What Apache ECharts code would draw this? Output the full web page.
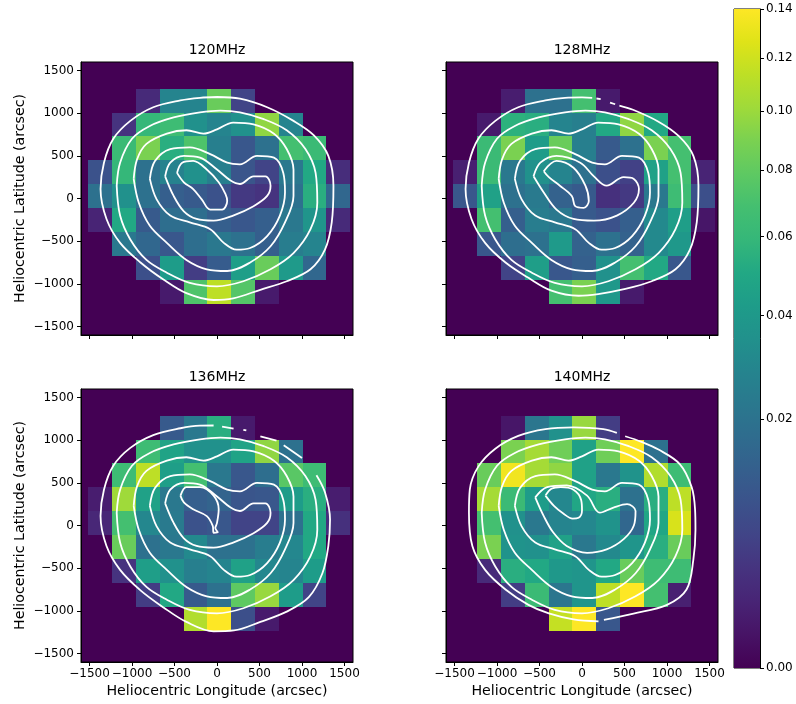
<!DOCTYPE html>
<html><head><meta charset="utf-8">
<script src="https://cdn.jsdelivr.net/npm/echarts@6/dist/echarts.min.js"></script>
<style>html,body{margin:0;padding:0;background:#fff}#c{width:796px;height:704px}</style>
</head><body><div id="c"></div>
<script>
// ---------------- data ----------------
const panelTitles = ['120MHz', '128MHz', '136MHz', '140MHz'];
const cellX = [-1372, -1092, -812, -532, -252, 28, 308, 588, 868, 1148, 1428];
const cellY = [1148, 868, 588, 308, 28, -252, -532, -812, -1092];
const cellSize = 280;
const axisTicks = [-1500, -1000, -500, 0, 500, 1000, 1500];
const cbTicks = [0, 0.02, 0.04, 0.06, 0.08, 0.10, 0.12, 0.14];
const vmax = 0.14;

const flux120 = [
  [0,0,0.002,0.0284,0.0284,0.083,0.0056,0,0,0,0],
  [0,0.0032,0.0592,0.0647,0.035,0.0284,0.035,0.0964,0.0284,0,0],
  [0,0.0628,0.0896,0.0538,0.0726,0.0259,0.0102,0.0192,0.0686,0.0628,0],
  [0.0088,0.0592,0.0192,0.0271,0.035,0.0259,0.0095,0.0056,0.0224,0.0504,0.0024],
  [0.0192,0.035,0.0192,0.0126,0.011,0.0088,0.004,0.0032,0.0192,0.0538,0.0152],
  [0.0014,0.0504,0.011,0.0181,0.0181,0.0126,0.0102,0.0126,0.0224,0.0379,0.002],
  [0,0.0224,0.0152,0.0102,0.0181,0.0224,0.0192,0.0126,0.0247,0.0284,0],
  [0,0,0.0081,0.0424,0.0045,0.0118,0.0439,0.083,0.0408,0.0152,0],
  [0,0,0,0.0007,0.0726,0.1134,0.0746,0.0007,0,0,0]
];
const flux128 = [
  [0,0,0.0009,0.0192,0.0192,0.0686,0.0007,0,0,0,0],
  [0,0.0007,0.0556,0.0538,0.0284,0.0259,0.0504,0.0964,0.0504,0,0],
  [0,0.0628,0.0896,0.0424,0.083,0.0259,0.011,0.0192,0.0896,0.0686,0],
  [0.0011,0.0628,0.0224,0.035,0.0284,0.0192,0.0081,0.0051,0.0455,0.0686,0.0014],
  [0.0102,0.0455,0.0192,0.0235,0.0135,0.011,0.0027,0.004,0.0224,0.0647,0.0081],
  [0,0.0686,0.0126,0.0247,0.0224,0.011,0.0088,0.0126,0.0309,0.0439,0.0005],
  [0,0.0102,0.0181,0.0192,0.0408,0.0135,0.0192,0.0135,0.0309,0.0393,0],
  [0,0,0.0056,0.0439,0.0102,0.0126,0.035,0.0686,0.0504,0.0102,0],
  [0,0,0,0,0.0686,0.0896,0.0393,0.0007,0,0,0]
];
const flux136 = [
  [0,0,0,0.011,0.0224,0.0538,0.0007,0,0,0,0],
  [0,0,0.0647,0.0471,0.035,0.035,0.0471,0.0964,0.0192,0,0],
  [0,0.0647,0.1134,0.0439,0.0686,0.0224,0.0102,0.0181,0.0767,0.0647,0],
  [0.0009,0.1012,0.0455,0.0224,0.0126,0.0143,0.0095,0.0102,0.0424,0.0538,0.0009],
  [0.0017,0.0686,0.0296,0.0235,0.0088,0.0102,0.0056,0.0056,0.0192,0.0504,0.0027],
  [0,0.083,0.0192,0.0224,0.0309,0.0192,0.0192,0.0247,0.0296,0.0504,0],
  [0,0.0032,0.0439,0.035,0.0259,0.0284,0.0455,0.0296,0.0284,0.0424,0],
  [0,0,0.0045,0.0504,0.011,0.0192,0.0788,0.0988,0.0424,0.0056,0],
  [0,0,0,0,0.1084,0.14,0.0081,0.0007,0,0,0]
];
const flux140 = [
  [0,0,0.0005,0.0213,0.035,0.0988,0.0045,0,0,0,0],
  [0,0,0.0896,0.1035,0.0852,0.0455,0.0852,0.14,0.0192,0,0],
  [0,0.083,0.1345,0.1035,0.0964,0.0455,0.0224,0.0364,0.1084,0.0647,0],
  [0,0.1035,0.0628,0.0424,0.0296,0.0487,0.0538,0.0192,0.0538,0.1134,0],
  [0,0.0686,0.035,0.0224,0.0284,0.0296,0.0364,0.0152,0.0487,0.1237,0],
  [0,0.0896,0.0364,0.035,0.0455,0.0224,0.0309,0.0379,0.0538,0.083,0],
  [0,0.002,0.0538,0.0504,0.0393,0.0379,0.0504,0.083,0.0647,0.0647,0],
  [0,0,0.0045,0.0628,0.0213,0.0379,0.1134,0.14,0.0686,0.0011,0],
  [0,0,0,0,0.1159,0.14,0.0102,0,0,0,0]
];
const fluxes = [flux120, flux128, flux136, flux140];

// contour levels (outer -> inner), points in arcsec
const c120_1 = [[0,1190],[270,1170],[590,1070],[900,910],[1140,740],[1310,500],[1370,150],[1350,-280],[1270,-600],[1100,-830],[820,-970],[510,-1070],[190,-1170],[-40,-1190],[-360,-1110],[-630,-950],[-900,-750],[-1140,-520],[-1300,-240],[-1370,110],[-1330,420],[-1220,700],[-1020,910],[-750,1070],[-430,1150],[-200,1180],[0,1190]];
const c120_2 = [[-1180,150],[-1140,420],[-1000,700],[-790,850],[-510,950],[-200,1010],[40,1030],[270,1010],[550,930],[820,800],[1040,580],[1160,300],[1180,-50],[1100,-360],[900,-640],[630,-830],[310,-970],[0,-1030],[-320,-990],[-590,-870],[-830,-720],[-1020,-480],[-1140,-200],[-1180,150]];
const c120_3 = [[-980,230],[-940,460],[-830,640],[-590,760],[-360,800],[-160,760],[0,810],[190,890],[430,870],[670,760],[820,580],[900,340],[900,30],[800,-280],[630,-560],[390,-750],[120,-850],[-120,-830],[-360,-720],[-590,-520],[-790,-320],[-920,-50],[-980,230]];
const c120_4 = [[-790,230],[-730,440],[-550,580],[-320,600],[-80,520],[120,420],[270,400],[470,500],[670,480],[780,300],[800,70],[740,-200],[590,-440],[390,-580],[230,-600],[80,-520],[-80,-360],[-320,-280],[-550,-200],[-710,-10],[-790,230]];
const c120_5 = [[-610,260],[-550,420],[-390,500],[-200,480],[0,340],[160,210],[270,170],[430,260],[570,260],[630,150],[590,30],[430,-90],[190,-200],[-40,-260],[-240,-240],[-390,-150],[-510,30],[-610,260]];
const c120_6 = [[-470,300],[-410,420],[-280,440],[-120,340],[20,190],[100,50],[120,-30],[60,-130],[-80,-130],[-180,-10],[-280,110],[-390,190],[-470,300]];

const c128_1a = [[440,1090],[600,1040],[900,900],[1140,730],[1310,500],[1370,150],[1350,-280],[1270,-600],[1100,-830],[820,-970],[510,-1060],[190,-1120],[-40,-1140],[-360,-1080],[-630,-930],[-900,-750],[-1140,-520],[-1300,-240],[-1370,110],[-1330,420],[-1220,700],[-1020,910],[-750,1070],[-430,1150],[-200,1180],[0,1185],[120,1180]];
const c128_1b = [[170,1172],[220,1165]];
const c128_1c = [[330,1125],[390,1105]];
const c128_5 = [[-570,260],[-490,420],[-300,500],[-20,420],[140,260],[290,150],[490,250],[610,230],[670,110],[610,-50],[410,-200],[140,-260],[-100,-240],[-300,-130],[-450,70],[-570,260]];
const c128_6 = [[-450,320],[-300,440],[-100,360],[40,150],[80,-30],[20,-110],[-80,-90],[-120,30],[-260,150],[-390,250],[-450,320]];

const c136_1a = [[1170,590],[1270,390],[1330,70],[1310,-240],[1240,-560],[1080,-840],[820,-1010],[510,-1130],[200,-1230],[-40,-1240],[-360,-1130],[-630,-960],[-900,-760],[-1140,-520],[-1300,-240],[-1370,110],[-1330,420],[-1220,700],[-1020,910],[-750,1060],[-430,1140],[-200,1170],[-40,1172]];
const c136_1b = [[60,1160],[195,1135]];
const c136_1c = [[310,1122],[345,1115]];
const c136_1d = [[510,1045],[700,995]];
const c136_1e = [[785,940],[1000,790]];
const c136_6 = [[-430,350],[-360,450],[-200,450],[-40,350],[20,190],[0,30],[-20,-30],[10,-80],[-40,-85],[-50,-5],[-120,110],[-280,190],[-390,270],[-430,350]];

const c140_1a = [[410,1085],[250,1130],[-100,1150],[-430,1130],[-750,1050],[-1020,900],[-1220,690],[-1320,420],[-1330,150],[-1290,-240],[-1140,-520],[-900,-750],[-630,-930],[-390,-1030],[-100,-1100],[194,-1123]];
const c140_1b = [[258,-1107],[606,-1033],[1000,-930],[1230,-750],[1310,-400],[1335,-50],[1330,190],[1290,450],[1150,720],[900,890],[700,980],[508,1046]];
const c140_5 = [[-550,330],[-410,450],[-180,470],[60,350],[210,150],[370,210],[530,250],[630,170],[610,0],[490,-160],[290,-280],[60,-320],[-180,-240],[-340,-80],[-450,110],[-550,330]];
const c140_6 = [[-430,350],[-360,430],[-250,450],[-100,420],[-10,300],[0,180],[-40,90],[-110,80],[-220,140],[-330,230],[-430,350]];

const contours = [
  [c120_1, c120_2, c120_3, c120_4, c120_5, c120_6],
  [c128_1a, c128_1b, c128_1c, c120_2, c120_3, c120_4, c128_5, c128_6],
  [c136_1a, c136_1b, c136_1c, c136_1d, c136_1e, c120_2, c120_3, c120_4, c120_5, c136_6],
  [c140_1a, c140_1b, c120_2, c120_3, c120_4, c140_5, c140_6]
];

// ---------------- chart ----------------
const viridis = ['#440154','#471365','#482475','#46337f','#414487','#3b528b','#355f8d','#2f6c8e','#2a788e','#25848e','#21918c','#1e9c89','#22a884','#35b779','#44bf70','#5ec962','#7ad151','#9fda3a','#bddf26','#dfe318','#fde725'];
const FONT = 'DejaVu Sans';
const fmtTick = v => (v < 0 ? '\u2212' + Math.abs(v) : String(v));

const gridPos = [
  {left: 81, top: 62}, {left: 446, top: 62}, {left: 81, top: 389}, {left: 446, top: 389}
];
const grids = gridPos.map(p => ({left: p.left, top: p.top, width: 272, height: 273, show: true,
  backgroundColor: '#440154', borderColor: '#000', borderWidth: 1, containLabel: false}));
grids.push({left: 734, top: 9, width: 26, height: 659, show: true, backgroundColor: 'transparent', borderColor: '#000', borderWidth: 1});

const xAxes = [], yAxes = [];
for (let i = 0; i < 4; i++) {
  const bottomRow = i >= 2, leftCol = i % 2 === 0;
  xAxes.push({type: 'value', gridIndex: i, min: -1600, max: 1600,
    splitLine: {show: false},
    axisLine: {show: true, onZero: false, lineStyle: {color: '#000', width: 1}},
    axisTick: {show: true, customValues: axisTicks, length: 4, lineStyle: {color: '#000', width: 1}},
    axisLabel: {show: bottomRow, customValues: axisTicks, formatter: fmtTick, margin: 6, color: '#000', fontSize: 12, fontFamily: FONT},
    name: bottomRow ? 'Heliocentric Longitude (arcsec)' : '', nameLocation: 'middle', nameGap: 22,
    nameTextStyle: {color: '#000', fontSize: 14.2, fontFamily: FONT}
  });
  yAxes.push({type: 'value', gridIndex: i, min: -1600, max: 1600,
    splitLine: {show: false},
    axisLine: {show: true, onZero: false, lineStyle: {color: '#000', width: 1}},
    axisTick: {show: true, customValues: axisTicks, length: 4, lineStyle: {color: '#000', width: 1}},
    axisLabel: {show: leftCol, customValues: axisTicks, formatter: fmtTick, margin: 7, color: '#000', fontSize: 12, fontFamily: FONT},
    name: leftCol ? 'Heliocentric Latitude (arcsec)' : '', nameLocation: 'middle', nameGap: 54, nameRotate: 90,
    nameTextStyle: {color: '#000', fontSize: 14.2, fontFamily: FONT}
  });
}
// colorbar axes (normalized sqrt space)
const cbPos = cbTicks.map(t => Math.sqrt(t / vmax));
xAxes.push({type: 'value', gridIndex: 4, min: 0, max: 1, show: false});
yAxes.push({type: 'value', gridIndex: 4, min: 0, max: 1, position: 'right',
  splitLine: {show: false},
  axisLine: {show: true, onZero: false, lineStyle: {color: '#000', width: 1}},
  axisTick: {show: true, customValues: cbPos, length: 4, lineStyle: {color: '#000', width: 1}},
  axisLabel: {show: true, customValues: cbPos, formatter: v => (v * v * vmax).toFixed(2), margin: 6, color: '#000', fontSize: 12, fontFamily: FONT}
});

const series = [];
fluxes.forEach((grid, i) => {
  const data = [];
  grid.forEach((row, r) => row.forEach((v, c) => data.push([cellX[c], cellY[r], Math.sqrt(v / vmax), v])));
  series.push({type: 'custom', xAxisIndex: i, yAxisIndex: i, data: data, z: 1, silent: true,
    encode: {x: 0, y: 1},
    renderItem: (params, api) => {
      const x = api.value(0), y = api.value(1), h = cellSize / 2;
      const a = api.coord([x - h, y + h]), b = api.coord([x + h, y - h]);
      const x0 = Math.round(a[0]), y0 = Math.round(a[1]), x1 = Math.round(b[0]), y1 = Math.round(b[1]);
      return {type: 'rect', shape: {x: x0, y: y0, width: x1 - x0, height: y1 - y0}, style: {fill: api.visual('color')}};
    }
  });
});
contours.forEach((list, i) => {
  list.forEach(pts => series.push({type: 'line', xAxisIndex: i, yAxisIndex: i, data: pts, smooth: 0.35,
    symbol: 'none', showSymbol: false, silent: true, z: 3,
    lineStyle: {color: '#ffffff', width: 1.8}}));
});
series.push({type: 'custom', xAxisIndex: 4, yAxisIndex: 4, data: [[0, 0, 1, 1]], silent: true, z: 1,
  renderItem: (params, api) => {
    const p0 = api.coord([0, 0]), p1 = api.coord([1, 1]);
    const stops = viridis.map((c, k) => ({offset: k / (viridis.length - 1), color: c}));
    return {type: 'rect', shape: {x: p0[0], y: p1[1], width: p1[0] - p0[0], height: p0[1] - p1[1]},
      style: {fill: new echarts.graphic.LinearGradient(0, 1, 0, 0, stops)}};
  }
});

const titles = panelTitles.map((t, i) => ({text: t, left: gridPos[i].left + 136, top: gridPos[i].top - 19,
  textAlign: 'center', padding: 0,
  textStyle: {fontSize: 14, fontWeight: 'normal', color: '#000', fontFamily: FONT}}));

const chart = echarts.init(document.getElementById('c'), null, {renderer: 'canvas'});
chart.setOption({
  animation: false,
  backgroundColor: '#ffffff',
  title: titles,
  grid: grids,
  xAxis: xAxes,
  yAxis: yAxes,
  visualMap: {type: 'continuous', show: false, min: 0, max: 1, dimension: 2, seriesIndex: [0, 1, 2, 3],
    inRange: {color: viridis}},
  series: series
});
</script></body></html>
